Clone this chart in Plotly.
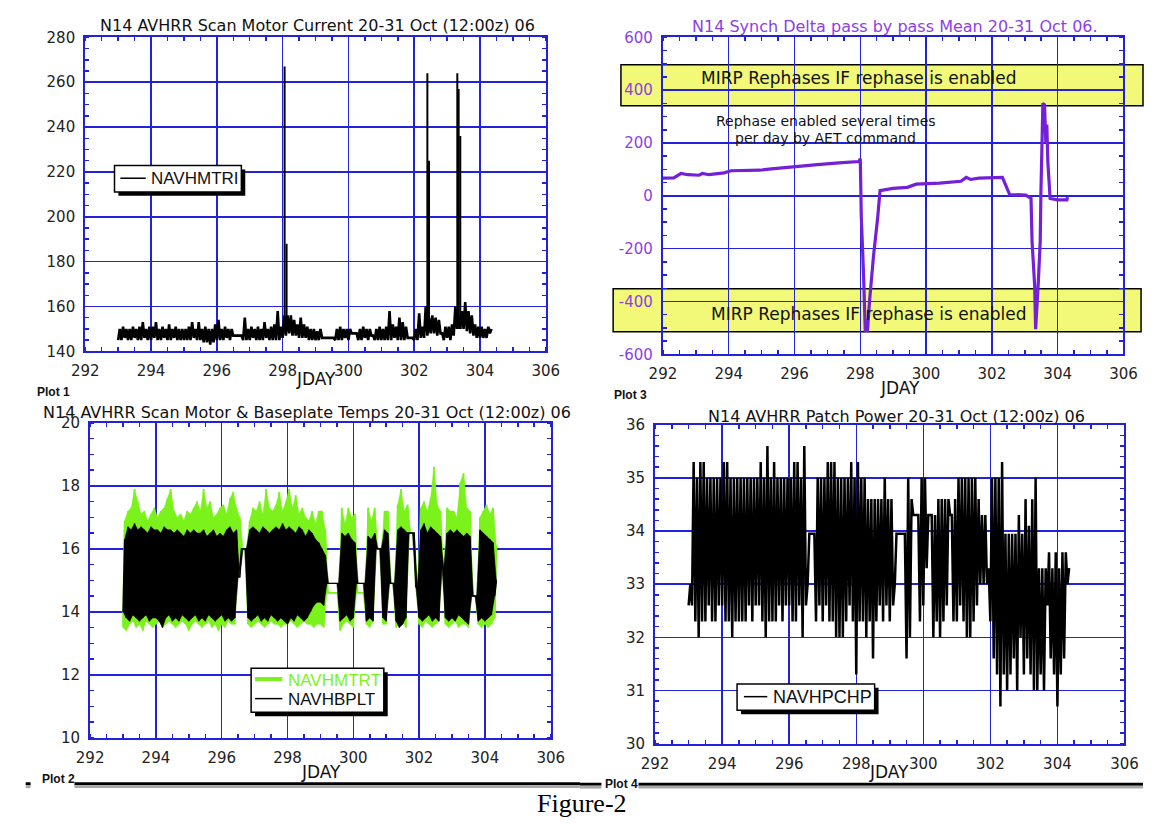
import plotly.graph_objects as go

W, H = 1157, 825

# ---------------- DATA ----------------
# common sampling grid for the dense telemetry (JDAY)
t_start = 293.0
t_step = 0.1

# Plot 1: NAVHMTRI scan motor current, per-bin low / high
motor_cur_lo = [145,145,146,145,145,146,145,145,146,145,
                145,146,145,145,146,145,145,146,145,145,
                145,145,145,146,145,145,144,144,143,144,
                145,145,145,146,145,147,147,147,145,145,
                145,146,145,145,145,146,145,145,145,145,
                146,147,148,147,147,146,146,146,145,145,
                145,145,146,146,146,146,145,145,145,146,
                145,148,148,145,145,146,145,147,145,145,
                145,145,145,145,146,145,145,145,146,146,
                145,145,146,146,147,148,148,147,148,145,
                146,145,147,150,150,150,149,148,147,146,
                146,146,146,148]
motor_cur_hi = [150,151,150,150,151,150,151,153,150,151,
                151,153,150,151,150,152,150,151,150,150,
                150,151,153,150,153,150,151,150,150,152,
                154,150,151,150,150,147,147,147,155,150,
                151,150,151,150,153,150,151,152,158,151,
                156,156,156,154,152,155,152,151,150,150,
                149,150,146,146,146,146,150,151,150,150,
                150,148,148,150,151,150,150,147,150,151,
                150,151,158,152,151,155,153,151,146,146,
                150,157,151,160,155,156,155,154,148,151,
                151,152,160,156,158,162,158,156,152,151,
                151,150,151,150]
spike_day = [298.06, 298.12, 302.40, 302.45, 303.31, 303.35, 303.40]
spike_val = [267, 188, 264, 225, 264, 257, 236]
spike_base = 150

# Plot 3: synch delta pass-by-pass mean
synch_day = [292.0, 292.33, 292.55, 292.76, 293.1, 293.2, 293.4, 293.86, 294.07, 294.95,
             295.3, 295.6, 296.04, 296.48, 296.7, 297.35, 297.95, 298.0, 298.03, 298.1,
             298.15, 298.22, 298.28, 298.4, 298.45, 298.53, 298.6, 298.99, 299.43, 299.7,
             300.41, 301.06, 301.22, 301.35, 301.61, 302.32, 302.54, 303.03, 303.19, 303.22,
             303.3, 303.33, 303.41, 303.47, 303.49, 303.52, 303.55, 303.6, 303.64, 303.67,
             303.7, 303.77, 304.0, 304.28, 304.3]
synch_val = [67, 68, 85, 80, 78, 85, 80, 87, 95, 97,
             102, 105, 110, 113, 118, 125, 130, 140, -80, -300,
             -510, -510, -400, -230, -180, -80, 20, 28, 32, 44,
             48, 55, 70, 62, 67, 70, 5, 3, -10, -170,
             -340, -505, -330, -170, 10, 185, 350, 345, 200, 270,
             130, -10, -15, -15, -5]

# Plot 2: NAVHMTRT (green) and NAVHBPLT (black)
mtrt_lo = [13.5,13.4,13.6,13.7,13.5,13.6,13.4,13.7,13.6,13.5,
           13.6,13.7,13.5,13.6,13.7,13.6,13.5,13.6,13.7,13.6,
           13.4,13.6,13.7,13.6,13.5,13.6,13.7,13.5,13.6,13.4,
           13.6,13.5,13.7,13.6,13.6,15.2,16.0,16.0,13.6,13.5,
           13.6,13.7,13.6,13.5,13.6,13.7,13.6,13.6,13.5,13.6,
           13.6,13.7,13.6,13.5,13.6,13.7,13.6,13.6,13.5,13.6,
           13.6,13.5,14.6,14.6,14.6,14.6,13.4,13.6,13.7,13.6,
           13.5,14.6,14.6,14.6,13.6,13.5,13.7,16.0,16.0,13.6,
           13.6,14.9,14.9,13.5,13.6,13.7,13.5,16.5,16.5,14.8,
           13.6,13.5,13.7,13.6,13.5,13.6,13.7,15.4,13.6,13.5,
           13.6,13.7,13.5,13.6,13.6,13.5,14.5,14.5,13.6,13.5,
           13.6,13.5,13.6,13.8]
mtrt_hi = [16.9,17.2,17.3,17.9,17.5,17.1,17.2,16.9,17.1,17.3,
           17.0,17.2,17.3,17.6,17.9,17.2,17.0,17.1,16.9,17.2,
           17.1,17.3,17.5,17.2,17.9,17.3,17.5,17.0,17.1,17.3,
           17.4,17.1,17.6,17.8,17.3,17.0,16.0,16.0,16.9,17.3,
           17.2,17.5,17.1,17.9,17.3,17.2,17.4,17.8,17.2,17.5,
           17.9,17.3,17.7,17.1,17.3,17.0,16.9,17.2,16.8,17.2,
           17.2,16.6,14.6,14.6,14.6,14.6,17.3,16.8,17.3,17.0,
           17.1,14.6,14.6,14.6,17.3,16.9,17.3,16.0,16.0,17.2,
           17.2,14.9,14.9,17.4,17.9,17.2,17.4,16.5,16.5,14.8,
           17.3,17.5,17.2,17.6,18.6,17.4,17.2,15.4,17.3,17.2,
           17.2,17.0,18.1,18.4,17.3,17.2,14.5,14.5,17.0,17.2,
           17.4,17.1,17.3,16.1]
bplt_lo = [14.0,13.8,13.7,13.9,13.8,13.7,13.8,13.9,13.7,13.8,
           13.8,13.7,13.5,13.8,13.9,13.7,13.8,13.7,13.9,13.8,
           13.7,13.8,13.9,13.7,13.8,13.7,13.9,13.8,13.7,13.8,
           13.9,13.7,13.8,13.7,13.8,15.1,16.0,16.0,13.8,13.7,
           13.8,13.9,13.7,13.8,13.7,13.9,13.8,13.7,13.8,13.7,
           13.6,13.8,13.7,13.9,13.8,13.7,13.8,14.0,14.2,14.3,
           14.3,14.2,14.9,14.9,14.9,14.9,13.7,13.8,13.9,13.7,
           13.8,14.9,14.9,14.9,13.7,13.8,13.7,16.0,16.0,13.8,
           13.7,14.9,14.9,13.7,13.5,13.6,13.8,16.5,16.5,14.8,
           13.8,13.7,13.8,13.9,13.7,13.8,13.7,15.4,13.8,13.7,
           13.8,13.7,13.9,13.8,13.7,13.6,14.5,14.5,13.7,13.8,
           13.7,13.8,13.9,14.5]
bplt_hi = [16.3,16.7,16.6,16.8,16.6,16.7,16.6,16.5,16.7,16.6,
           16.6,16.5,16.7,16.6,16.6,16.5,16.6,16.5,16.4,16.6,
           16.5,16.6,16.5,16.5,16.6,16.4,16.5,16.6,16.4,16.5,
           16.4,16.6,16.7,16.5,16.6,15.1,16.0,16.0,16.6,16.7,
           16.6,16.5,16.7,16.6,16.5,16.6,16.7,16.6,16.8,16.6,
           16.7,16.6,16.5,16.7,16.6,16.4,16.6,16.5,16.3,16.2,
           16.0,15.8,14.9,14.9,14.9,14.9,16.5,16.4,16.5,16.3,
           16.2,14.9,14.9,14.9,16.4,16.3,16.5,16.0,16.0,16.6,
           16.5,14.9,14.9,16.6,16.7,16.6,16.5,16.5,16.5,14.8,
           16.6,16.8,16.5,16.7,16.6,16.5,16.4,15.4,16.5,16.6,
           16.5,16.6,16.5,16.4,16.5,16.4,14.5,14.5,16.6,16.5,
           16.4,16.3,16.2,15.0]

# Plot 4: NAVHPCHP patch power
pchp_lo = [32.6,32.6,32.3,32.0,32.3,32.3,32.6,32.3,32.3,32.6,
           32.6,32.3,32.3,32.0,32.3,32.3,32.3,32.3,32.6,32.3,
           32.6,32.6,32.3,32.0,32.3,32.3,32.3,32.6,32.3,32.6,
           32.6,32.3,32.3,32.6,32.0,32.6,33.95,33.95,32.3,32.6,
           32.3,32.6,32.3,32.3,32.0,32.0,32.0,32.3,32.6,32.3,
           31.3,32.3,32.3,32.0,32.3,31.6,32.3,32.6,32.3,32.6,
           32.3,32.6,33.95,33.95,33.95,31.6,32.0,34.3,34.3,32.3,
           32.6,33.3,34.3,32.0,32.3,32.0,32.3,32.6,34.3,32.3,
           32.3,32.6,32.3,32.0,32.0,32.3,32.6,33.0,33.0,33.0,
           32.3,31.6,31.3,30.7,31.3,31.0,31.3,31.6,31.0,32.0,
           31.3,31.6,31.3,31.0,31.0,31.3,31.0,32.6,31.6,31.3,
           30.7,31.3,31.6,33.0]
pchp_hi = [33.0,35.3,35.0,35.3,35.3,35.0,35.0,35.0,35.0,35.0,
           35.3,35.3,35.0,35.0,35.0,35.0,35.0,35.0,35.0,35.0,
           35.0,35.3,35.0,35.6,35.0,35.3,35.0,35.0,35.0,35.0,
           35.0,35.3,35.3,35.0,35.6,33.0,33.95,33.95,35.0,35.0,
           35.0,35.3,35.3,35.3,35.0,35.0,35.0,35.0,35.3,35.0,
           35.3,35.0,35.0,34.6,34.6,34.6,34.6,34.6,35.0,34.6,
           34.6,33.0,33.95,33.95,33.95,35.0,34.6,34.3,34.3,35.0,
           35.0,34.3,34.3,34.3,34.6,34.6,34.6,34.6,34.3,34.6,
           35.0,35.0,35.0,35.0,35.0,35.0,34.6,34.3,34.3,33.3,
           35.0,35.0,35.0,35.3,33.95,33.95,33.95,33.95,34.3,33.95,
           34.6,34.1,34.6,35.0,33.3,33.3,33.3,33.6,33.3,33.6,
           33.3,33.6,33.6,33.3]

x_tickvals = [292, 294, 296, 298, 300, 302, 304, 306]
y1_tickvals = [140, 160, 180, 200, 220, 240, 260, 280]
y3_tickvals = [-600, -400, -200, 0, 200, 400, 600]
y3_ticktext = ["-600", "-400", "-200", "0", "200", "400", "600"]
y2_tickvals = [10, 12, 14, 16, 18, 20]
y4_tickvals = [30, 31, 32, 33, 34, 35, 36]

# ---------------- HELPERS ----------------
BLUE = "#2222dc"
PURPLE_LINE = "#7420d8"
PURPLE_TXT = "#8d3ee6"
GREEN = "#7cf21c"
YELLOW = "#f2f878"


def zigzag(t0, step, lo, hi):
    xs, ys = [], []
    for i, (a, b) in enumerate(zip(lo, hi)):
        t = t0 + i * step
        xs += [t, t + step / 2]
        ys += [a, b]
    return xs, ys


def envelope(t0, step, lo, hi):
    # closed polygon: low points forward, high points backward
    n = len(lo)
    xs = [t0 + i * step for i in range(n)]
    xs += [t0 + i * step + step / 2 for i in range(n - 1, -1, -1)]
    ys = list(lo) + list(hi)[::-1]
    return xs, ys


def band(fig, lo, hi, color, width, xa, ya, fill=True):
    if fill:
        ex, ey = envelope(t_start, t_step, lo, hi)
        fig.add_trace(go.Scatter(x=ex, y=ey, mode="lines", fill="toself",
                                 fillcolor=color, line=dict(color=color, width=0.5),
                                 xaxis=xa, yaxis=ya, showlegend=False, hoverinfo="skip"))
    zx, zy = zigzag(t_start, t_step, lo, hi)
    fig.add_trace(go.Scatter(x=zx, y=zy, mode="lines",
                             line=dict(color=color, width=width, simplify=False),
                             xaxis=xa, yaxis=ya, showlegend=False))


def px(x):
    return x / W


def py(y):
    return 1 - y / H


def ann(text, x, y, size, color="#111", family="DejaVu Sans", xanchor="center"):
    return dict(text=text, x=px(x), y=py(y), xref="paper", yref="paper",
                showarrow=False, xanchor=xanchor, yanchor="middle",
                font=dict(size=size, color=color, family=family))


def rect(x0, y0, x1, y1, fill, line_color=None, line_width=0, layer="above"):
    return dict(type="rect", xref="paper", yref="paper",
                x0=px(x0), x1=px(x1), y0=py(y1), y1=py(y0),
                fillcolor=fill, layer=layer,
                line=dict(color=line_color or fill, width=line_width))


def hline(x0, x1, y, color, width):
    return dict(type="line", xref="paper", yref="paper", x0=px(x0), x1=px(x1),
                y0=py(y), y1=py(y), line=dict(color=color, width=width))


fig = go.Figure()

# Plot 1
band(fig, motor_cur_lo, motor_cur_hi, "black", 2.6, "x", "y", fill=False)
sx, sy = [], []
for d, v in zip(spike_day, spike_val):
    sx += [d, d, None]
    sy += [spike_base, v, None]
fig.add_trace(go.Scatter(x=sx, y=sy, mode="lines", line=dict(color="black", width=2),
                         xaxis="x", yaxis="y", showlegend=False))

# Plot 3
fig.add_trace(go.Scatter(x=synch_day, y=synch_val, mode="lines",
                         line=dict(color=PURPLE_LINE, width=3.2),
                         xaxis="x2", yaxis="y2", showlegend=False))

# Plot 2
band(fig, mtrt_lo, mtrt_hi, GREEN, 1.8, "x3", "y3")
band(fig, bplt_lo, bplt_hi, "black", 1.4, "x3", "y3")

# Plot 4 (keeps the thin white slits of the original)
band(fig, pchp_lo, pchp_hi, "black", 2.5, "x4", "y4", fill=False)


def xax(x0, x1, anchor):
    return dict(domain=[px(x0), px(x1)], anchor=anchor, range=[292, 306],
                tickvals=x_tickvals, showgrid=True, gridcolor=BLUE, gridwidth=1.5,
                showline=True, linecolor=BLUE, linewidth=2, mirror="allticks",
                ticks="", zeroline=False, ticklabelstandoff=5,
                tickfont=dict(family="DejaVu Sans", size=15, color="#222"),
                minor=dict(dtick=0.5, tick0=292, ticks="inside", ticklen=4,
                           tickcolor=BLUE, tickwidth=1.5, showgrid=False))


def yax(y0, y1, anchor, rng, tickvals, dminor, color="#222", ticktext=None):
    d = dict(domain=[py(y1), py(y0)], anchor=anchor, range=rng,
             tickvals=tickvals, showgrid=True, gridcolor=BLUE, gridwidth=1.5,
             showline=True, linecolor=BLUE, linewidth=2, mirror="allticks",
             ticks="", zeroline=False, ticklabelstandoff=5,
             tickfont=dict(family="DejaVu Sans", size=15, color=color),
             minor=dict(dtick=dminor, tick0=rng[0], ticks="inside", ticklen=4,
                        tickcolor=BLUE, tickwidth=1.5, showgrid=False))
    if ticktext is not None:
        d["ticktext"] = ticktext
    return d


fig.update_layout(
    width=W, height=H, autosize=False,
    margin=dict(l=0, r=0, t=0, b=0),
    paper_bgcolor="white", plot_bgcolor="rgba(0,0,0,0)",
    showlegend=False,
    xaxis=xax(73, 545, "y"),
    yaxis=yax(29, 350, "x", [140, 280], y1_tickvals, 5),
    xaxis2=xax(665, 1137, "y2"),
    yaxis2=yax(29, 353, "x2", [-600, 600], y3_tickvals, 50, color=PURPLE_TXT,
               ticktext=y3_ticktext),
    xaxis3=xax(78, 550, "y3"),
    yaxis3=yax(423, 745, "x3", [10, 20], y2_tickvals, 0.5),
    xaxis4=xax(657, 1138, "y4"),
    yaxis4=yax(425, 751, "x4", [30, 36], y4_tickvals, 0.2),
)

shapes = []
# yellow rephase boxes (below gridlines)
shapes.append(rect(622, 57, 1157, 99, YELLOW, "black", 1.5, layer="below"))
shapes.append(rect(614, 286, 1155, 330, YELLOW, "black", 1.5, layer="below"))


def legend_box(x0, y0, x1, y1):
    return [rect(x0 + 4, y0 + 4, x1 + 4, y1 + 4, "black"),
            rect(x0, y0, x1, y1, "white", "black", 1.5)]


shapes += legend_box(103, 160, 233, 187)
shapes.append(hline(109, 135, 173, "black", 1.5))
shapes += legend_box(243, 674, 379, 719)
shapes.append(hline(247, 275, 685, GREEN, 4))
shapes.append(hline(247, 275, 705, "black", 1.5))
shapes += legend_box(741, 690, 882, 717)
shapes.append(hline(748, 772, 703, "black", 1.5))

# bottom separators
shapes.append(rect(62, 790.5, 580, 793.5, "black"))
shapes.append(rect(62, 793.5, 580, 796.5, "#a8a8a8"))
shapes.append(rect(12, 790.5, 17, 793.5, "black"))
shapes.append(rect(12, 793.5, 17, 796.5, "#a8a8a8"))
shapes.append(rect(580, 791, 602, 794, "black"))
shapes.append(rect(580, 794, 602, 797, "#a8a8a8"))
shapes.append(rect(640, 791, 1157, 794, "black"))
shapes.append(rect(640, 794, 1157, 797, "#a8a8a8"))

fig.update_layout(shapes=shapes)

annotations = [
    ann("N14 AVHRR Scan Motor Current 20-31 Oct (12:00z) 06", 311, 17, 16),
    ann("N14 Synch Delta pass by pass Mean 20-31 Oct 06.", 903, 18, 16, color=PURPLE_TXT),
    ann("N14 AVHRR Scan Motor &amp; Baseplate Temps 20-31 Oct (12:00z) 06", 300, 412, 16),
    ann("N14 AVHRR Patch Power 20-31 Oct (12:00z) 06", 904, 417, 16),
    ann("JDAY", 310, 378, 17),
    ann("JDAY", 908, 387, 17),
    ann("JDAY", 315, 780, 17),
    ann("JDAY", 897, 780, 17),
    ann("<b>Plot 1</b>", 22, 392, 12, family="Liberation Sans", xanchor="left"),
    ann("<b>Plot 3</b>", 613, 395, 12, family="Liberation Sans", xanchor="left"),
    ann("<b>Plot 2</b>", 27, 787, 12, family="Liberation Sans", xanchor="left"),
    ann("<b>Plot 4</b>", 604, 792, 12, family="Liberation Sans", xanchor="left"),
    ann("Figure-2", 582, 812, 26, color="black", family="Liberation Serif"),
    ann("MIRP Rephases IF rephase is enabled", 866, 71, 17),
    ann("MIRP Rephases IF rephase is enabled", 876, 312, 17),
    ann("Rephase enabled several times", 832, 114, 14),
    ann("per day by AET command", 832, 132, 14),
    ann("NAVHMTRI", 138, 173, 17, family="Liberation Sans", xanchor="left"),
    ann("NAVHMTRT", 279, 686, 17, color=GREEN, family="Liberation Sans", xanchor="left"),
    ann("NAVHBPLT", 279, 706, 17, family="Liberation Sans", xanchor="left"),
    ann("NAVHPCHP", 776, 703, 18, family="Liberation Sans", xanchor="left"),
]
fig.update_layout(annotations=annotations)

fig.write_html("out.html",
               config={"displayModeBar": False, "staticPlot": True},
               post_script="document.body.style.margin='0';document.body.style.overflow='hidden';")
